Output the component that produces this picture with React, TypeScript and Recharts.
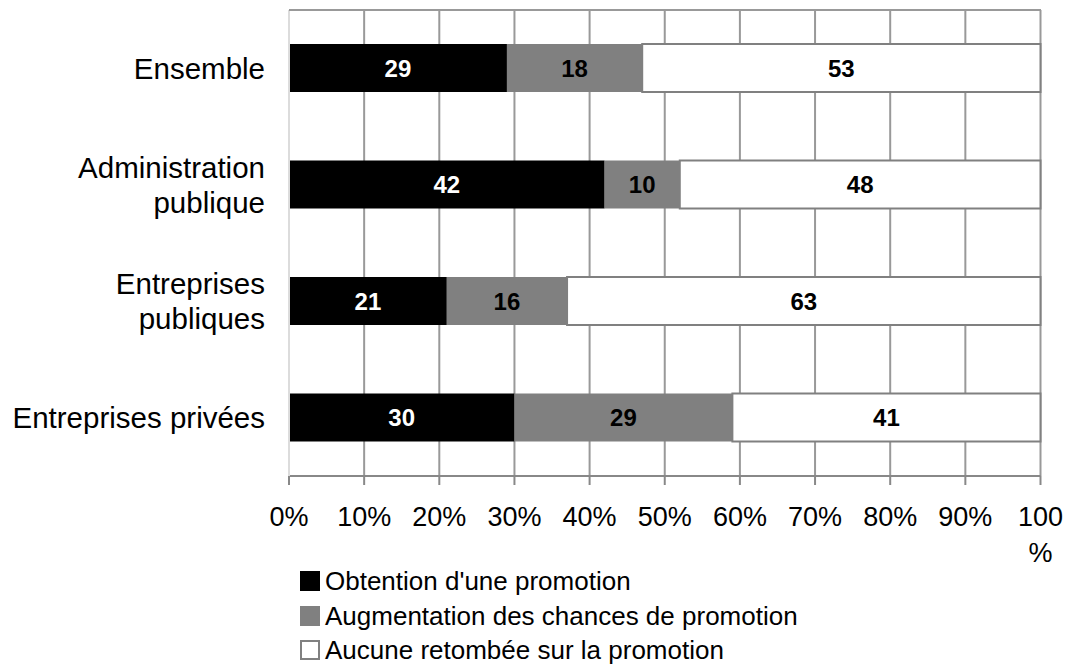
import React from "react";
import { BarChart, Bar, XAxis, YAxis, CartesianGrid, LabelList } from "recharts";

const FONT = "'Liberation Sans', Arial, sans-serif";

const categories = [
  "Ensemble",
  "Administration\npublique",
  "Entreprises\npubliques",
  "Entreprises privées",
];
const promotionObtenue = [29, 42, 21, 30];
const chancesAugmentees = [18, 10, 16, 29];
const aucuneRetombee = [53, 48, 63, 41];
const xTicks = [0, 10, 20, 30, 40, 50, 60, 70, 80, 90, 100];

const seriesNames = [
  "Obtention d'une promotion",
  "Augmentation des chances de promotion",
  "Aucune retombée sur la promotion",
];

const data = categories.map((name, i) => ({
  name,
  promotion: promotionObtenue[i],
  chances: chancesAugmentees[i],
  aucune: aucuneRetombee[i],
}));

function CategoryTick(props: any) {
  const { x, y, payload } = props;
  const lines: string[] = String(payload.value).split("\n");
  const lineH = 35;
  const first = y + 10.5 - ((lines.length - 1) * lineH) / 2;
  return (
    <text x={x} y={first} textAnchor="end" fill="#000" fontSize={29.5} fontFamily={FONT}>
      {lines.map((l, i) => (
        <tspan key={i} x={x} y={first + i * lineH}>
          {l}
        </tspan>
      ))}
    </text>
  );
}

function PercentTick(props: any) {
  const { x, y, payload } = props;
  const v = payload.value;
  const lines = v === 100 ? ["100", "%"] : [`${v}%`];
  const base = y + 39;
  return (
    <text x={x} y={base} textAnchor="middle" fill="#000" fontSize={27} fontFamily={FONT}>
      {lines.map((l, i) => (
        <tspan key={i} x={x} y={base + i * 36}>
          {l}
        </tspan>
      ))}
    </text>
  );
}

const legendColors = [
  { fill: "#000000", border: "#000000" },
  { fill: "#808080", border: "#808080" },
  { fill: "#ffffff", border: "#808080" },
];

export default function App() {
  return (
    <div style={{ position: "absolute", left: 0, top: 0, width: 1069, height: 664, background: "#fff" }}>
      <BarChart
        width={1069}
        height={664}
        data={data}
        layout="vertical"
        margin={{ top: 10, right: 28.5, left: 0, bottom: 88 }}
      >
        <CartesianGrid vertical horizontal={false} stroke="#999" strokeWidth={2} />
        <XAxis
          type="number"
          domain={[0, 100]}
          ticks={xTicks}
          interval={0}
          height={100}
          axisLine={{ stroke: "#888", strokeWidth: 2 }}
          tickLine={{ stroke: "#888", strokeWidth: 2 }}
          tickSize={9}
          tickMargin={2}
          tick={<PercentTick />}
        />
        <YAxis
          type="category"
          dataKey="name"
          width={289}
          axisLine={{ stroke: "#dcdcdc", strokeWidth: 2 }}
          tickLine={false}
          tickSize={0}
          tickMargin={24}
          interval={0}
          tick={<CategoryTick />}
        />
        <Bar dataKey="promotion" stackId="a" fill="#000000" barSize={48} isAnimationActive={false}>
          <LabelList dataKey="promotion" position="center" fill="#ffffff" fontSize={24} fontWeight="bold" fontFamily={FONT} />
        </Bar>
        <Bar dataKey="chances" stackId="a" fill="#808080" barSize={48} isAnimationActive={false}>
          <LabelList dataKey="chances" position="center" fill="#000000" fontSize={24} fontWeight="bold" fontFamily={FONT} />
        </Bar>
        <Bar
          dataKey="aucune"
          stackId="a"
          fill="#ffffff"
          stroke="#808080"
          strokeWidth={2}
          barSize={48}
          isAnimationActive={false}
        >
          <LabelList dataKey="aucune" position="center" fill="#000000" fontSize={24} fontWeight="bold" fontFamily={FONT} />
        </Bar>
      </BarChart>
      {/* top border of the plot area */}
      <div style={{ position: "absolute", left: 289, top: 9, width: 752, height: 2, background: "#999" }} />
      <div
        style={{
          position: "absolute",
          left: 300,
          top: 564,
          fontFamily: FONT,
          fontSize: 26,
          lineHeight: "26px",
          color: "#000",
        }}
      >
        {seriesNames.map((n, i) => (
          <div key={n} style={{ display: "flex", alignItems: "center", height: 34.5 }}>
            <span
              style={{
                display: "inline-block",
                width: i === 2 ? 16 : 20,
                height: i === 2 ? 16 : 20,
                background: legendColors[i].fill,
                border: i === 2 ? `2px solid ${legendColors[i].border}` : "none",
                marginRight: 5,
              }}
            />
            <span>{n}</span>
          </div>
        ))}
      </div>
    </div>
  );
}
